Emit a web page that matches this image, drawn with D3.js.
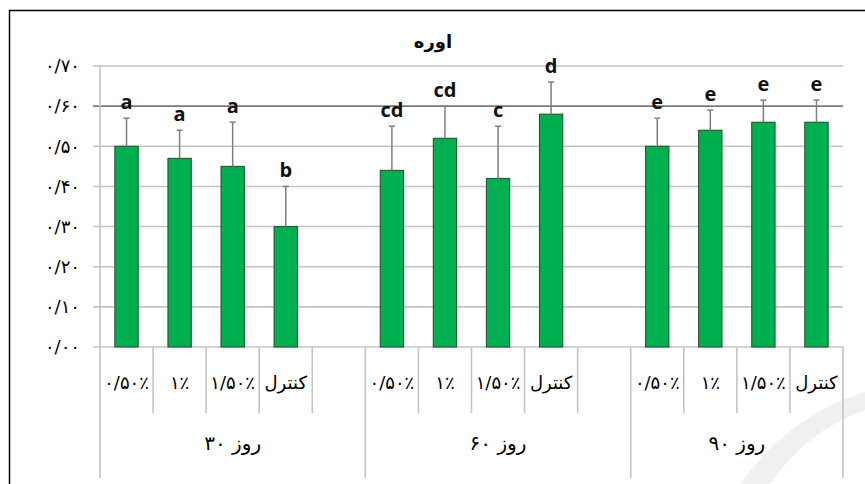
<!DOCTYPE html>
<html>
<head>
<meta charset="utf-8">
<script src="https://cdn.jsdelivr.net/npm/d3@7"></script>
<style>
  body { margin: 0; background: #fff; }
  text { font-family: "DejaVu Sans", sans-serif; }
</style>
</head>
<body>
<script>
// chart data
var days = ["روز ۳۰", "روز ۶۰", "روز ۹۰"];
var treatments = ["۰/۵۰٪", "۱٪", "۱/۵۰٪", "کنترل"];
var means30 = [0.50, 0.47, 0.45, 0.30];
var means60 = [0.44, 0.52, 0.42, 0.58];
var means90 = [0.50, 0.54, 0.56, 0.56];
var err30 = [0.07, 0.07, 0.11, 0.10];
var err60 = [0.11, 0.08, 0.13, 0.08];
var err90 = [0.07, 0.05, 0.055, 0.055];
var letters30 = ["a", "a", "a", "b"];
var letters60 = ["cd", "cd", "c", "d"];
var letters90 = ["e", "e", "e", "e"];
var yTicks = [0, 0.1, 0.2, 0.3, 0.4, 0.5, 0.6, 0.7];
var title = "اوره";

var means = [means30, means60, means90],
    errs = [err30, err60, err90],
    letters = [letters30, letters60, letters90];

var W = 865, H = 484;
var plot = {left: 100, right: 843, top: 66, bottom: 347};

var toFa = function(s) { return s.replace(/[0-9]/g, function(c) { return "۰۱۲۳۴۵۶۷۸۹"[+c]; }); };

// slots: first two groups have an empty slot after the four bars
var slots = [], bars = [];
days.forEach(function(day, gi) {
    treatments.forEach(function(t, ti) {
        var key = gi + "-" + ti;
        slots.push({key: key, group: gi, label: t});
        bars.push({key: key, value: means[gi][ti], err: errs[gi][ti], letter: letters[gi][ti]});
    });
    if (gi < days.length - 1) slots.push({key: gi + "-blank", group: gi, label: ""});
});

var slotX = d3.scaleBand().domain(slots.map(d => d.key)).range([plot.left, plot.right]);
var x = d3.scaleBand().domain(slots.map(d => d.key)).range([plot.left, plot.right])
    .paddingInner(0.56).paddingOuter(0.28);
var y = d3.scaleLinear().domain([0, 0.7]).range([plot.bottom, plot.top]);

var svg = d3.select("body").append("svg").attr("width", W).attr("height", H);

// faint watermark swoosh
svg.append("path")
    .attr("d", "M740,484 Q790,415 865,392 L865,410 Q805,432 770,484 Z")
    .style("fill", "#f0f0f0");

// outer frame (cropped at right and bottom)
svg.append("rect").attr("x", 9.5).attr("y", 10.5).attr("width", 880).attr("height", 500)
    .style("fill", "none").style("stroke", "#000").style("stroke-width", 1.5);

// gridlines
svg.append("g").selectAll("line").data(yTicks).enter().append("line")
    .attr("x1", plot.left - 7).attr("x2", plot.right)
    .attr("y1", d => y(d)).attr("y2", d => y(d))
    .style("stroke", d => Math.abs(d - 0.6) < 1e-9 ? "#7a7a7a" : "#c4c4c4")
    .style("stroke-width", 1.6);

// y labels
svg.append("g").selectAll("text").data(yTicks).enter().append("text")
    .attr("x", 80).attr("y", d => y(d)).attr("dy", "0.35em")
    .attr("text-anchor", "end").style("font-size", "18px").style("fill", "#000")
    .text(d => toFa(d3.format(".2f")(d).replace(".", "/")));

// y axis line
svg.append("line").attr("x1", plot.left).attr("x2", plot.left)
    .attr("y1", plot.top).attr("y2", plot.bottom)
    .style("stroke", "#c4c4c4").style("stroke-width", 1.6);

// category separators
var sepG = svg.append("g");
slots.forEach(function(s, i) {
    var xx = slotX(s.key);
    var long = i === 0 || slots[i - 1].group !== s.group;
    sepG.append("line").attr("x1", xx).attr("x2", xx)
        .attr("y1", plot.bottom).attr("y2", long ? 478 : 413)
        .style("stroke", "#c4c4c4").style("stroke-width", 1.6);
});
sepG.append("line").attr("x1", plot.right).attr("x2", plot.right)
    .attr("y1", plot.bottom).attr("y2", 478)
    .style("stroke", "#c4c4c4").style("stroke-width", 1.6);

// category labels
svg.append("g").selectAll("text").data(slots.filter(d => d.label)).enter().append("text")
    .attr("x", d => slotX(d.key) + slotX.bandwidth() / 2).attr("y", 383).attr("dy", "0.35em")
    .attr("text-anchor", "middle").style("font-size", "18px").style("fill", "#000")
    .text(d => d.label);

// group labels
svg.append("g").selectAll("text").data(days).enter().append("text")
    .attr("x", function(d, gi) {
        var keys = slots.filter(s => s.group === gi);
        var x0 = slotX(keys[0].key), x1 = slotX(keys[keys.length - 1].key) + slotX.bandwidth();
        return (x0 + x1) / 2;
    })
    .attr("y", 443).attr("dy", "0.35em").attr("direction", "rtl")
    .attr("text-anchor", "middle").style("font-size", "20px").style("fill", "#000")
    .text(d => d);

// bars
svg.append("g").selectAll("rect").data(bars).enter().append("rect")
    .attr("x", d => x(d.key)).attr("width", x.bandwidth())
    .attr("y", d => y(d.value)).attr("height", d => y(0) - y(d.value))
    .style("fill", "#00b050").style("stroke", "#1e4d2b").style("stroke-width", 1);

// error bars (upper only)
var eb = svg.append("g").selectAll("g").data(bars).enter().append("g");
eb.append("line")
    .attr("x1", d => x(d.key) + x.bandwidth() / 2).attr("x2", d => x(d.key) + x.bandwidth() / 2)
    .attr("y1", d => y(d.value)).attr("y2", d => y(d.value + d.err))
    .style("stroke", "#7f7f7f").style("stroke-width", 1.5);
eb.append("line")
    .attr("x1", d => x(d.key) + x.bandwidth() / 2 - 3).attr("x2", d => x(d.key) + x.bandwidth() / 2 + 3)
    .attr("y1", d => y(d.value + d.err)).attr("y2", d => y(d.value + d.err))
    .style("stroke", "#7f7f7f").style("stroke-width", 1.5);

// significance letters
svg.append("g").selectAll("text").data(bars).enter().append("text")
    .attr("x", d => x(d.key) + x.bandwidth() / 2).attr("y", d => y(d.value + d.err) - 9)
    .attr("text-anchor", "middle").style("font-size", "20px").style("font-weight", "bold")
    .style("font-family", "'Open Sans', sans-serif").style("fill", "#111")
    .text(d => d.letter);

// title
svg.append("text").attr("x", 433).attr("y", 42).attr("dy", "0.35em")
    .attr("text-anchor", "middle").style("font-size", "18px").style("font-weight", "bold")
    .text(title);
</script>
</body>
</html>
